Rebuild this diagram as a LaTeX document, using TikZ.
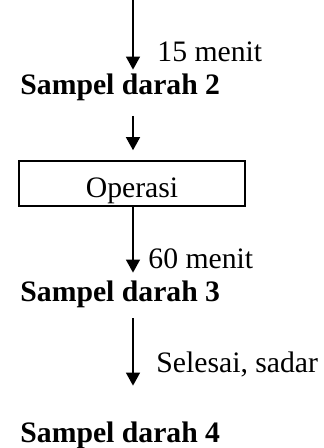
\documentclass[tikz,border=0pt]{standalone}
\usepackage{fontspec}
\setmainfont{Liberation Serif}
\usepackage{tikz}
\usetikzlibrary{arrows.meta,positioning,calc}

\tikzset{
  sampel/.style={inner sep=0pt, anchor=base west, text height=10pt, text depth=3.5pt, font=\fontsize{14.85}{18}\selectfont\bfseries},
  ket/.style={inner sep=0pt, anchor=base west, font=\fontsize{14.85}{18}\selectfont},
  proses/.style={rectangle, draw, line width=0.8pt, inner sep=0pt, anchor=base, minimum width=113pt, text height=18.5pt, text depth=4pt, font=\fontsize{14.85}{18}\selectfont},
  panah/.style={-{Triangle[width=7pt,length=6.5pt]}, line width=0.7pt}
}

\begin{document}
\begin{tikzpicture}[x=0.5pt,y=-0.5pt]
\useasboundingbox (0,0) rectangle (323,448);
\coordinate (top) at (133,0);
\node[sampel] (s2) at (20,95) {Sampel darah 2};
\node[proses] (op) at (132,198) {Operasi};
\node[sampel] (s3) at (20,301) {Sampel darah 3};
\node[sampel] (s4) at (20,442) {Sampel darah 4};
% keterangan waktu di samping panah
\node[ket] (t15) at (157,62) {15 menit};
\node[ket] (t60) at (148,268) {60 menit};
\node[ket] (tsel) at (156,372) {Selesai, sadar};
\draw[panah, shorten >=2.5pt] (top) -- (s2.north -| top);
\draw[panah, shorten <=6.8pt, shorten >=5pt] (s2.south -| top) -- (op.north -| top);
\draw[panah, shorten >=4pt] (op.south -| top) -- (s3.north -| top);
\draw[panah, shorten <=5pt, shorten >=18pt] (s3.south -| top) -- (s4.north -| top);
\end{tikzpicture}
\end{document}
